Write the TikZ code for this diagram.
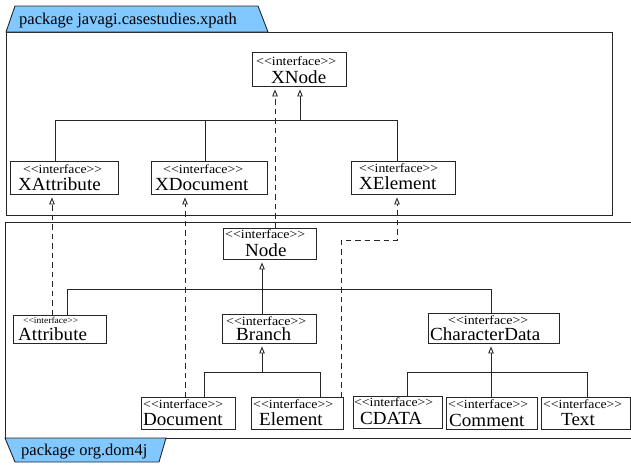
\documentclass[tikz,border=0pt]{standalone}
\usepackage{fontspec}
\setmainfont{Liberation Serif}[Ligatures=TeXOff]
\usetikzlibrary{arrows.meta}
\definecolor{pkgblue}{RGB}{128,200,255}
\newcommand{\stereo}[2]{\resizebox{#1pt}{\height}{\fontsize{#2}{#2}\selectfont <<interface>>}}
\newcommand{\cname}[1]{\scalebox{1.03}[1]{\fontsize{18.5}{18.5}\selectfont #1}}
\begin{document}
\begin{tikzpicture}[x=1pt,y=-1pt,
  box/.style={draw=black!85, line width=0.9pt, fill=white, inner sep=0pt, anchor=north west},
  lbl/.style={inner sep=0pt, anchor=base west},
  conn/.style={draw=black!85, line width=0.9pt},
  gen/.style={conn, -{Triangle[open,width=5.5pt,length=7pt]}, shorten >=2.5pt},
  real/.style={gen, dash pattern=on 5.5pt off 4pt},
  frame/.style={draw=black!85, line width=0.9pt},
  tab/.style={draw=black!85, line width=0.9pt, fill=pkgblue}]
\useasboundingbox (0,0) rectangle (631,464);

% packages
\draw[frame] (6,32) rectangle (612,215);
\draw[tab] (6,32) -- (15,6) -- (258,6) -- (268,32) -- cycle;
\node[lbl, font=\fontsize{16.5}{16.5}\selectfont] (pkgTop) at (19,24.5) {package javagi.casestudies.xpath};

\draw[frame] (631,222) -- (5,222) -- (5,438) -- (631,438);
\draw[tab] (5,438) -- (166,438) -- (159,462) -- (15,462) -- cycle;
\node[lbl, font=\fontsize{16.5}{16.5}\selectfont] (pkgBot) at (21,455) {package org.dom4j};

% class boxes
\node[box, minimum width=94pt, minimum height=34pt] (XNode) at (252,52) {};
\node[box, minimum width=108pt, minimum height=33pt] (XAttribute) at (10,161) {};
\node[box, minimum width=116pt, minimum height=33pt] (XDocument) at (151,161) {};
\node[box, minimum width=104pt, minimum height=33pt] (XElement) at (351,161) {};
\node[box, minimum width=93pt, minimum height=31pt] (Node) at (223,228) {};
\node[box, minimum width=93pt, minimum height=28pt] (Attribute) at (13,315) {};
\node[box, minimum width=94pt, minimum height=29pt] (Branch) at (222,314) {};
\node[box, minimum width=131pt, minimum height=30pt] (CharacterData) at (428,313) {};
\node[box, minimum width=94pt, minimum height=32pt] (Document) at (141,397) {};
\node[box, minimum width=92pt, minimum height=32pt] (Element) at (251,397) {};
\node[box, minimum width=89pt, minimum height=32pt] (CDATA) at (353,396) {};
\node[box, minimum width=91pt, minimum height=32pt] (Comment) at (446,397) {};
\node[box, minimum width=89pt, minimum height=32pt] (Text) at (541,397) {};

% texts
\node[lbl] (XNode-s) at (256,65) {\stereo{80}{12.5}};
\node[lbl] (XNode-n) at (271,83.3) {\cname{XNode}};
\node[lbl] (XAttribute-s) at (23,173.3) {\stereo{79}{12.5}};
\node[lbl] (XAttribute-n) at (18,190) {\cname{XAttribute}};
\node[lbl] (XDocument-s) at (163,173) {\stereo{80}{12.5}};
\node[lbl] (XDocument-n) at (155,190) {\cname{XDocument}};
\node[lbl] (XElement-s) at (359,172.7) {\stereo{79}{12.5}};
\node[lbl] (XElement-n) at (359,189.3) {\cname{XElement}};
\node[lbl] (Node-s) at (225,238.3) {\stereo{80}{12.5}};
\node[lbl] (Node-n) at (245,256.7) {\cname{Node}};
\node[lbl] (Attribute-s) at (23,323.3) {\stereo{55}{9}};
\node[lbl] (Attribute-n) at (18,340) {\cname{Attribute}};
\node[lbl] (Branch-s) at (226,325) {\stereo{80}{12.5}};
\node[lbl] (Branch-n) at (236,340.7) {\cname{Branch}};
\node[lbl] (CharacterData-s) at (448,324.3) {\stereo{80}{12.5}};
\node[lbl] (CharacterData-n) at (430,340.7) {\cname{CharacterData}};
\node[lbl] (Document-s) at (143,408.3) {\stereo{80}{12.5}};
\node[lbl] (Document-n) at (143,425) {\cname{Document}};
\node[lbl] (Element-s) at (253,408.3) {\stereo{80}{12.5}};
\node[lbl] (Element-n) at (259,425) {\cname{Element}};
\node[lbl] (CDATA-s) at (354,406) {\stereo{79}{12.5}};
\node[lbl] (CDATA-n) at (360,424) {\cname{CDATA}};
\node[lbl] (Comment-s) at (448,408.3) {\stereo{80}{12.5}};
\node[lbl] (Comment-n) at (449,426) {\cname{Comment}};
\node[lbl] (Text-s) at (543,408.3) {\stereo{79}{12.5}};
\node[lbl] (Text-n) at (561,425) {\cname{Text}};

% generalization tree (xpath)
\draw[conn] ([xshift=45pt]XAttribute.north west) -- ++(0,-41) -| ([xshift=46pt]XElement.north west);
\draw[conn] ([xshift=54pt]XDocument.north west) -- ++(0,-41);
\coordinate (tj) at (300,120);
\draw[gen] (tj) -- (tj |- XNode.south);

% realizations
\draw[real] ([xshift=52pt]Node.north west) -- ([xshift=23pt]XNode.south west);
\draw[real] ([xshift=39pt]Attribute.north west) -- ([xshift=42pt]XAttribute.south west);
\draw[real] ([xshift=44pt]Document.north west) -- ([xshift=34pt]XDocument.south west);
\coordinate (eb) at (397,240);
\draw[real] ([xshift=90pt]Element.north west) |- (eb) -- (eb |- XElement.south);

% Node tree
\draw[conn] ([xshift=54pt]Attribute.north west) -- ++(0,-26) -| ([xshift=63pt]CharacterData.north west);
\draw[conn] ([xshift=40pt]Branch.north west) -- ++(0,-25);
\coordinate (nj) at (262,289);
\draw[gen] (nj) -- (nj |- Node.south);

% Branch tree
\draw[conn] ([xshift=63pt]Document.north west) -- ++(0,-25) -| ([xshift=69pt]Element.north west);
\coordinate (bj) at (262,372);
\draw[gen] (bj) -- (bj |- Branch.south);

% CharacterData tree
\draw[conn] ([xshift=54pt]CDATA.north west) -- ++(0,-24) -| ([xshift=46pt]Text.north west);
\draw[conn] ([xshift=45pt]Comment.north west) -- ++(0,-25);
\coordinate (cj) at (491,372);
\draw[gen] (cj) -- (cj |- CharacterData.south);
\end{tikzpicture}
\end{document}
